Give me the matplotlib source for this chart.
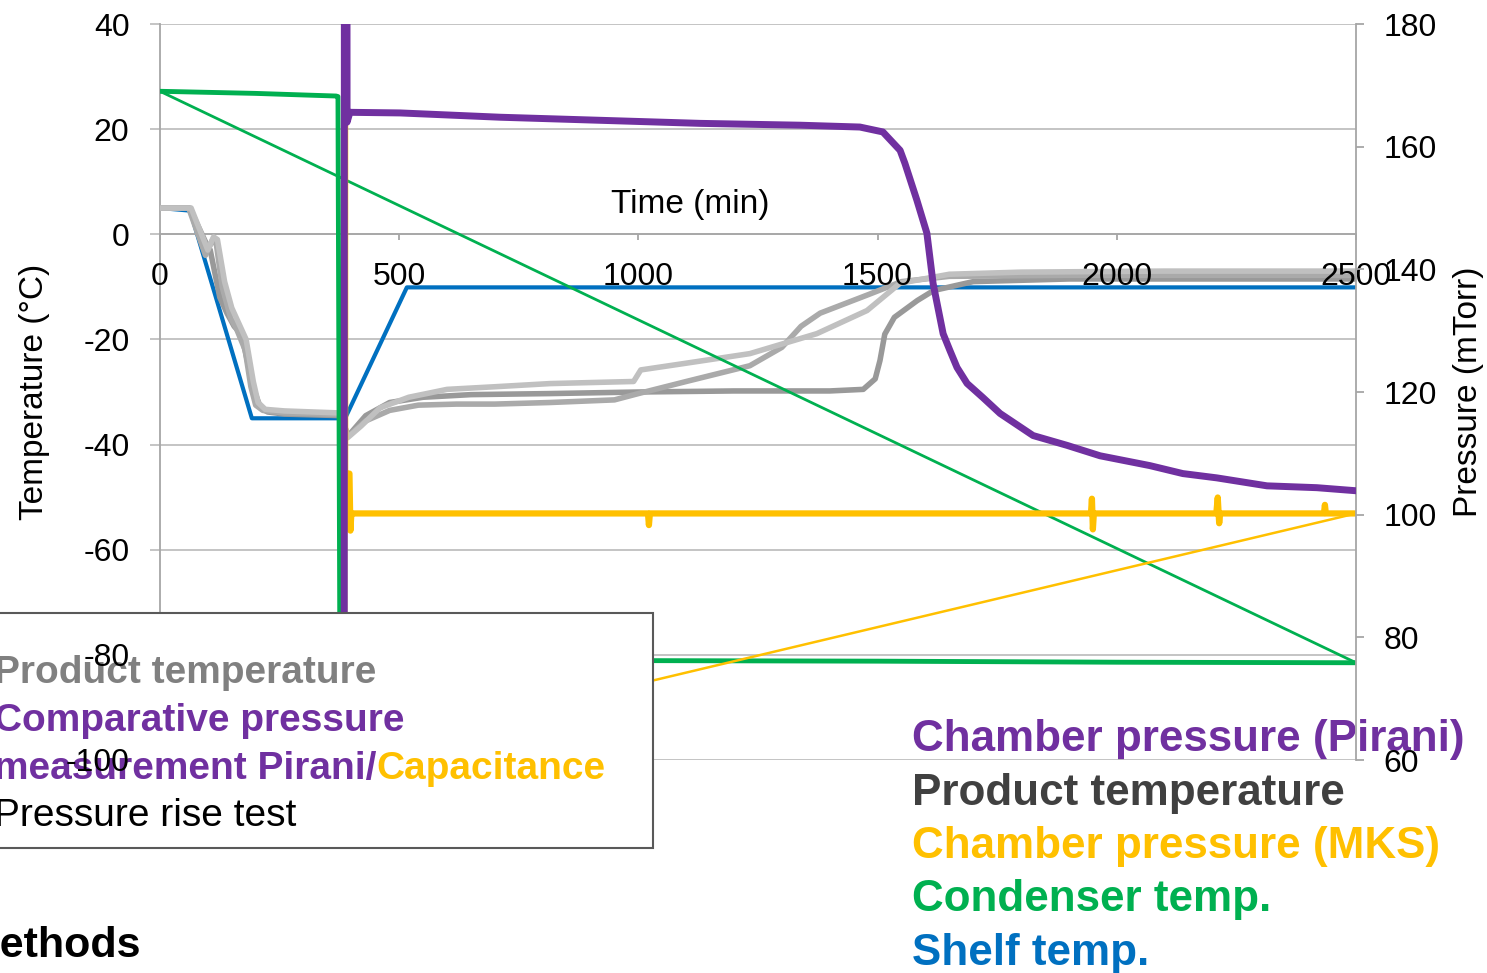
import matplotlib
matplotlib.use("Agg")
import matplotlib.pyplot as plt
from matplotlib.patches import Rectangle
from matplotlib.text import Annotation

plt.rcParams['font.family'] = ['Liberation Sans', 'DejaVu Sans']
plt.rcParams['axes.unicode_minus'] = False

# colours (Excel palette)
PURPLE = '#7030a0'
YELLOW = '#ffc000'
GREEN = '#00b050'
BLUE = '#0070c0'
GRID = '#bfbfbf'

# Shelf temperature (C)
shelf_t = [0, 63, 192, 387, 516, 2500]
shelf_T = [5, 4.5, -35, -35, -10.1, -10.1]

# Condenser temperature (C) - Excel draws a closing segment back to the first point
cond_t = [0, 100, 200, 300, 368, 372, 376, 700, 1031, 1500, 2000, 2500]
cond_T = [27.2, 27.0, 26.8, 26.5, 26.3, 26.2, -81.0, -81.0, -81.1, -81.2, -81.4, -81.5]

# Product temperatures (C), three thermocouples
prodA_t = [0, 65, 100, 112, 120, 135, 150, 165, 180, 195, 205, 220, 260, 380, 392, 420, 460, 520,
           600, 700, 815, 990, 1005, 1094, 1233, 1373, 1478, 1547, 1650, 1800, 2100, 2500]
prodA_T = [5, 5, -3, -0.5, -1, -9, -14, -17, -20, -28, -32, -33.3, -33.6, -34, -38.7, -36.5, -33, -31,
           -29.5, -29, -28.4, -28, -25.8, -24.6, -22.7, -18.9, -14.5, -9.3, -7.6, -7.2, -7.0, -7.0]
prodB_t = [0, 60, 95, 110, 118, 130, 148, 160, 178, 190, 200, 215, 260, 380, 392, 430, 480, 540,
           620, 700, 815, 950, 1000, 1100, 1233, 1300, 1340, 1380, 1420, 1480, 1550, 1650, 1900, 2500]
prodB_T = [5, 5, -4, -1, -2, -10, -16, -18, -22, -29, -32.5, -33.5, -34, -34.3, -38.5, -35.5, -33.5, -32.5,
           -32.3, -32.3, -32, -31.5, -30.3, -28, -25, -21.5, -17.5, -15, -13.6, -11.5, -9, -8, -7.8, -7.8]
prodC_t = [0, 62, 98, 105, 125, 140, 155, 170, 185, 198, 210, 225, 260, 380, 392, 430, 480, 550,
           650, 815, 1000, 1200, 1400, 1470, 1495, 1505, 1515, 1535, 1583, 1617, 1700, 1900, 2500]
prodC_T = [5, 5, -2, -3, -12, -15, -17.5, -19, -25, -30, -33, -33.8, -34.2, -34.5, -38.5, -34.5, -32, -31,
           -30.5, -30.3, -30, -29.8, -29.8, -29.5, -27.5, -24, -19, -15.8, -12.6, -10.7, -9, -8.5, -8.5]

# Chamber pressure, Pirani (mTorr)
pirani_t = [385, 387, 391, 397, 502, 711, 920, 1129, 1338, 1463, 1511, 1547, 1557, 1582, 1603, 1616,
            1637, 1651, 1666, 1687, 1720, 1756, 1825, 1896, 1965, 2069, 2138, 2209, 2314, 2418, 2500]
pirani_P = [0, 1000, 164, 165.6, 165.5, 164.8, 164.3, 163.8, 163.5, 163.2, 162.4, 159.4, 157.3, 151.3, 145.9,
            137.7, 129.5, 126.8, 124.0, 121.4, 119.1, 116.5, 112.9, 111.3, 109.6, 108.0, 106.7, 106.0,
            104.7, 104.4, 103.9]

# Chamber pressure, MKS capacitance (mTorr)
mks_t = [385, 386.5, 387, 396, 398, 400, 405, 1020, 1022, 1024, 1946, 1948, 1950, 1952,
         2208, 2211, 2214, 2216, 2433, 2435, 2437, 2500]
mks_P = [61, 1000, 106.7, 106.7, 97.4, 100.2, 100.2, 100.2, 98.3, 100.2, 100.2, 102.6, 97.6, 100.2,
         100.2, 102.8, 98.6, 100.2, 100.2, 101.6, 100.2, 100.2]

temp_ticks = [-100, -80, -60, -40, -20, 0, 20, 40]
press_ticks = [60, 80, 100, 120, 140, 160, 180]
time_ticks = [0, 500, 1000, 1500, 2000, 2500]

W, H = 1487, 973
fig = plt.figure(figsize=(W / 100, H / 100), dpi=100)
rect = [160 / W, 1 - 760 / H, 1196 / W, 736 / H]
ax = fig.add_axes(rect)
ax.patch.set_visible(False)
ax2 = ax.twinx()

# temperature series
ax.plot(shelf_t, shelf_T, color=BLUE, lw=3, zorder=2)
ax.plot(prodC_t, prodC_T, color='#999999', lw=4, zorder=3)
ax.plot(prodB_t, prodB_T, color='#aaaaaa', lw=4, zorder=3)
ax.plot(prodA_t, prodA_T, color='#c0c0c0', lw=4, zorder=3)
ax.plot(cond_t, cond_T, color=GREEN, lw=3.5, zorder=4)
ax.plot([cond_t[-1], cond_t[0]], [cond_T[-1], cond_T[0]], color=GREEN, lw=2, zorder=4)

# pressure series
ax2.plot(mks_t, mks_P, color=YELLOW, lw=4.5, zorder=2)
ax2.plot([mks_t[-1], mks_t[0]], [mks_P[-1], mks_P[0]], color=YELLOW, lw=1.8, zorder=2)
ax2.plot(pirani_t, pirani_P, color=PURPLE, lw=5, zorder=3)

ax.set_xlim(0, 2500)
ax.set_ylim(-100, 40)
ax2.set_ylim(60, 180)
ax.set_xticks(time_ticks)
ax.set_yticks(temp_ticks)
ax2.set_yticks(press_ticks)

for s in ['top', 'right']:
    ax.spines[s].set_visible(False)
ax.spines['left'].set_color('#a6a6a6')
ax.spines['left'].set_linewidth(1.3)
ax.spines['bottom'].set_position(('data', 0))
ax.spines['bottom'].set_color('#a6a6a6')
ax.spines['bottom'].set_linewidth(1.3)
for s in ['top', 'left', 'bottom']:
    ax2.spines[s].set_visible(False)
ax2.spines['right'].set_color('#a6a6a6')
ax2.spines['right'].set_linewidth(1.3)

ax.set_axisbelow(True)
ax.grid(axis='y', color=GRID, lw=1.3)
ax.tick_params(axis='y', labelleft=False, length=7, width=1.3, color=GRID)
ax.tick_params(axis='x', length=4, width=1.3, color='#a6a6a6', pad=16, labelsize=23)
ax.xaxis.set_zorder(5)
ax2.tick_params(axis='y', length=6, width=1.3, color='#a6a6a6', pad=14, labelsize=23)

ax.set_xlabel('Time (min)', fontsize=24)
ax.xaxis.set_label_coords(0.443, 0.776)
ax.set_ylabel('Temperature (°C)', fontsize=24)
ax.yaxis.set_label_coords(-0.092, 0.5)
ax2.set_ylabel('Pressure (mTorr)', fontsize=24)
ax2.yaxis.set_label_coords(1.081, 0.5)

# overlay axes carrying the left tick labels so they sit above the text box
ax3 = fig.add_axes(rect, zorder=3)
ax3.patch.set_visible(False)
ax3.set_ylim(-100, 40)
ax3.set_yticks(temp_ticks)
ax3.set_xticks([])
for s in ax3.spines.values():
    s.set_visible(False)
ax3.tick_params(axis='y', length=7, color='none', pad=15, labelsize=23)

# text box at the lower left
fig.patches.append(Rectangle((-10 / W, 1 - 848 / H), 663 / W, 235 / H, transform=fig.transFigure,
                             facecolor='white', edgecolor='#595959', lw=1.5, zorder=1))
x0 = -6 / W
fig.text(x0, 1 - 683 / H, 'Product temperature', color='#808080', fontsize=28,
         fontweight='bold', zorder=2)
fig.text(x0, 1 - 731 / H, 'Comparative pressure', color=PURPLE, fontsize=28,
         fontweight='bold', zorder=2)
t_meas = fig.text(x0, 1 - 779 / H, 'measurement Pirani/', color=PURPLE, fontsize=28,
                  fontweight='bold', zorder=2)
cap = Annotation('Capacitance', xy=(1, 1 - 779 / H), xycoords=(t_meas, 'figure fraction'),
                 color=YELLOW, fontsize=28, fontweight='bold', va='baseline', ha='left', zorder=2)
fig.add_artist(cap)
fig.text(x0, 1 - 826 / H, 'Pressure rise test', color='black', fontsize=28, zorder=2)

fig.text(-36 / W, 1 - 957 / H, 'Methods', color='black', fontsize=31, fontweight='bold', zorder=2)

# series key at the lower right
key_labels = ['Chamber pressure (Pirani)', 'Product temperature', 'Chamber pressure (MKS)',
              'Condenser temp.', 'Shelf temp.']
key_colors = [PURPLE, '#404040', YELLOW, GREEN, BLUE]
for i, (lab, col) in enumerate(zip(key_labels, key_colors)):
    fig.text(912 / W, 1 - (751 + 53.5 * i) / H, lab, color=col, fontsize=31.7,
             fontweight='bold', zorder=-1)

fig.savefig('out.png', dpi=100)
